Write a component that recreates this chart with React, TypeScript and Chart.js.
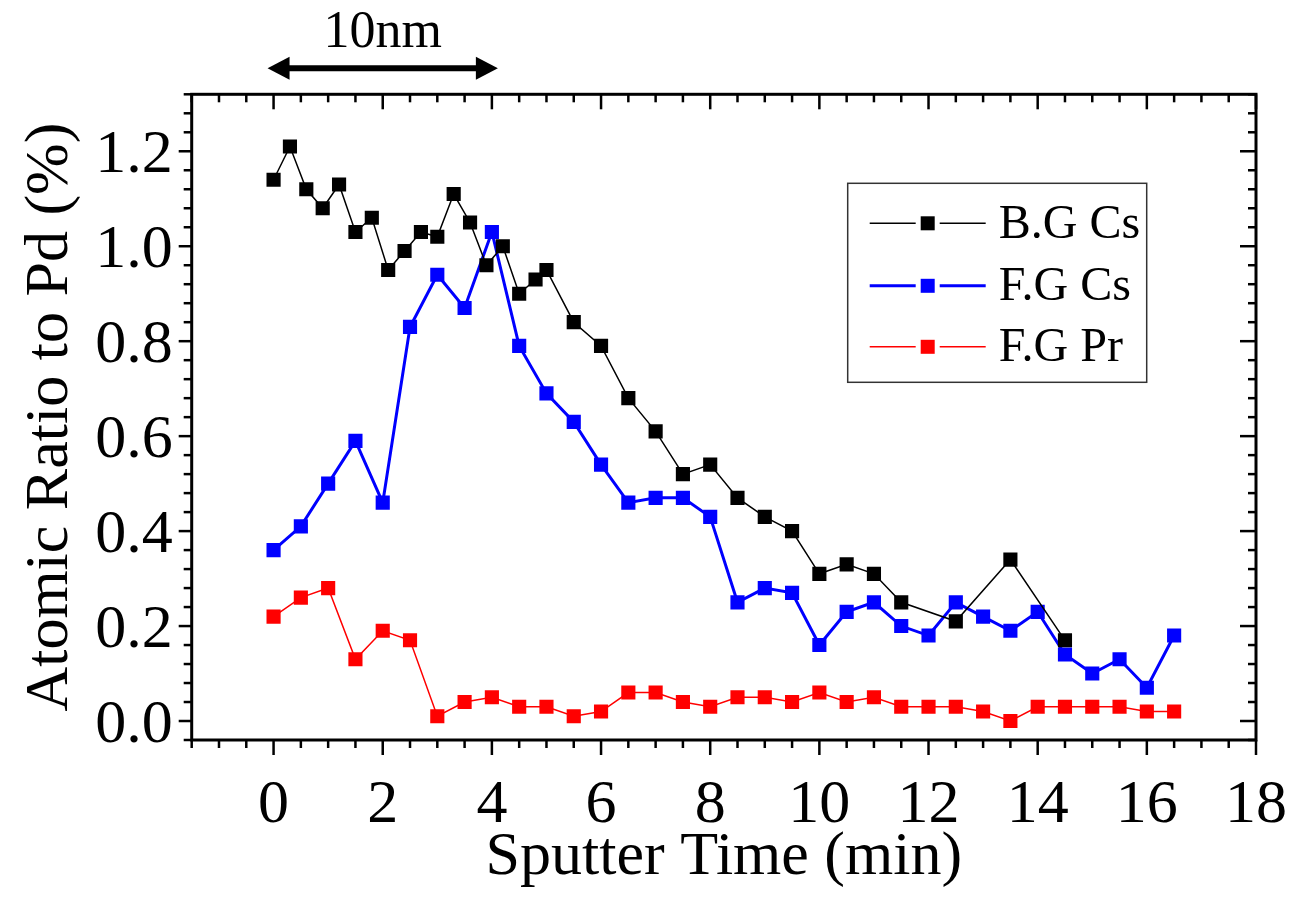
import React, { useEffect, useRef } from 'react';
import { Chart, registerables } from 'chart.js';

Chart.register(...registerables);

const FONT = '"Liberation Serif", "Times New Roman", serif';
Chart.defaults.font.family = FONT;
const BASE_PX = 48;

// ---- data ----
const bgCsTime = [0, 0.3, 0.6, 0.9, 1.2, 1.5, 1.8, 2.1, 2.4, 2.7, 3.0, 3.3, 3.6, 3.9, 4.2, 4.5, 4.8, 5.0, 5.5, 6.0, 6.5, 7.0, 7.5, 8.0, 8.5, 9.0, 9.5, 10.0, 10.5, 11.0, 11.5, 12.5, 13.5, 14.5];
const bgCsRatio = [1.14, 1.21, 1.12, 1.08, 1.13, 1.03, 1.06, 0.95, 0.99, 1.03, 1.02, 1.11, 1.05, 0.96, 1.0, 0.9, 0.93, 0.95, 0.84, 0.79, 0.68, 0.61, 0.52, 0.54, 0.47, 0.43, 0.4, 0.31, 0.33, 0.31, 0.25, 0.21, 0.34, 0.17];

const fgTime = [0, 0.5, 1.0, 1.5, 2.0, 2.5, 3.0, 3.5, 4.0, 4.5, 5.0, 5.5, 6.0, 6.5, 7.0, 7.5, 8.0, 8.5, 9.0, 9.5, 10.0, 10.5, 11.0, 11.5, 12.0, 12.5, 13.0, 13.5, 14.0, 14.5, 15.0, 15.5, 16.0, 16.5];
const fgCsRatio = [0.36, 0.41, 0.5, 0.59, 0.46, 0.83, 0.94, 0.87, 1.03, 0.79, 0.69, 0.63, 0.54, 0.46, 0.47, 0.47, 0.43, 0.25, 0.28, 0.27, 0.16, 0.23, 0.25, 0.2, 0.18, 0.25, 0.22, 0.19, 0.23, 0.14, 0.1, 0.13, 0.07, 0.18];
const fgPrRatio = [0.22, 0.26, 0.28, 0.13, 0.19, 0.17, 0.01, 0.04, 0.05, 0.03, 0.03, 0.01, 0.02, 0.06, 0.06, 0.04, 0.03, 0.05, 0.05, 0.04, 0.06, 0.04, 0.05, 0.03, 0.03, 0.03, 0.02, 0.0, 0.03, 0.03, 0.03, 0.03, 0.02, 0.02];

const seriesLabels = ['B.G Cs', 'F.G Cs', 'F.G Pr'];
const seriesColors = ['#000000', '#0000ff', '#ff0000'];
const seriesWidths = [1.5, 3, 1.5];

const xMajorTicks = [0, 2, 4, 6, 8, 10, 12, 14, 16, 18];
const yMajorTicks = [0, 0.2, 0.4, 0.6, 0.8, 1.0, 1.2];
const xTitle = 'Sputter Time (min)';
const yTitle = 'Atomic Ratio to Pd (%)';
const scaleBarLabel = '10nm';
const scaleBarFrom = 0;
const scaleBarTo = 4;

const near = (a: number, b: number) => Math.abs(a - b) < 1e-6;
const isXMajor = (v: number) => xMajorTicks.some((m) => near(m, v));
const isYMajor = (v: number) => yMajorTicks.some((m) => near(m, v));

// draw text at a given effective size using a fixed base font size + transform
function drawText(
  ctx: CanvasRenderingContext2D,
  text: string,
  x: number,
  y: number,
  size: number,
  align: CanvasTextAlign,
  baseline: CanvasTextBaseline,
  rotation = 0
) {
  ctx.save();
  ctx.translate(x, y);
  if (rotation) ctx.rotate(rotation);
  const k = size / BASE_PX;
  ctx.scale(k, k);
  ctx.font = `${BASE_PX}px ${FONT}`;
  ctx.textAlign = align;
  ctx.textBaseline = baseline;
  ctx.fillStyle = '#000';
  ctx.fillText(text, 0, 0);
  ctx.restore();
}

const framePlugin = {
  id: 'frameTicks',
  afterDraw(chart: any) {
    const { ctx, chartArea: a, scales } = chart;
    const xs = scales.x;
    const ys = scales.y;
    ctx.save();
    ctx.strokeStyle = '#000';
    ctx.lineWidth = 2.5;
    ctx.lineCap = 'butt';
    const seg = (x1: number, y1: number, x2: number, y2: number) => {
      ctx.beginPath();
      ctx.moveTo(x1, y1);
      ctx.lineTo(x2, y2);
      ctx.stroke();
    };
    xs.ticks.forEach((t: any) => {
      const px = xs.getPixelForValue(t.value);
      const len = isXMajor(t.value) ? 15 : 8;
      seg(px, a.bottom, px, a.bottom + len);
      seg(px, a.top, px, a.top + len);
    });
    ys.ticks.forEach((t: any) => {
      const py = ys.getPixelForValue(t.value);
      const major = isYMajor(t.value);
      seg(a.left - (major ? 13 : 8), py, a.left, py);
      seg(a.right - (major ? 16 : 8), py, a.right, py);
    });
    ctx.lineWidth = 3;
    ctx.strokeRect(a.left, a.top, a.right - a.left, a.bottom - a.top);

    // tick labels from the scales' own ticks
    xs.ticks.forEach((t: any) => {
      if (!isXMajor(t.value)) return;
      drawText(ctx, String(Math.round(t.value)), xs.getPixelForValue(t.value), a.bottom + 82, 62, 'center', 'alphabetic');
    });
    ys.ticks.forEach((t: any) => {
      if (!isYMajor(t.value)) return;
      drawText(ctx, Number(t.value).toFixed(1), a.left - 19, ys.getPixelForValue(t.value) + 21, 62, 'right', 'alphabetic');
    });

    // axis titles
    drawText(ctx, xTitle, (a.left + a.right) / 2, a.bottom + 118, 62, 'center', 'middle');
    drawText(ctx, yTitle, a.left - 141, (a.top + a.bottom) / 2, 62, 'center', 'middle', -Math.PI / 2);
    ctx.restore();
  },
};

const legendPlugin = {
  id: 'insideLegend',
  afterDraw(chart: any) {
    const { ctx, chartArea: a } = chart;
    const boxLeft = a.left + 656;
    const boxTop = a.top + 89;
    const boxW = 299;
    const boxH = 199;
    ctx.save();
    ctx.fillStyle = '#fff';
    ctx.fillRect(boxLeft, boxTop, boxW, boxH);
    ctx.strokeStyle = '#333';
    ctx.lineWidth = 1.5;
    ctx.strokeRect(boxLeft, boxTop, boxW, boxH);
    const rows = [40, 102.5, 163.5];
    chart.data.datasets.forEach((ds: any, i: number) => {
      const yy = boxTop + rows[i];
      ctx.strokeStyle = ds.borderColor;
      ctx.lineWidth = ds.borderWidth;
      ctx.beginPath();
      ctx.moveTo(boxLeft + 22, yy);
      ctx.lineTo(boxLeft + 68, yy);
      ctx.moveTo(boxLeft + 92, yy);
      ctx.lineTo(boxLeft + 138, yy);
      ctx.stroke();
      ctx.fillStyle = ds.backgroundColor;
      ctx.fillRect(boxLeft + 80 - 7, yy - 7, 14, 14);
      drawText(ctx, ds.label, boxLeft + 151, yy + 2, 48, 'left', 'middle');
    });
    ctx.restore();
  },
};

const scaleBarPlugin = {
  id: 'scaleBar',
  afterDraw(chart: any) {
    const { ctx, chartArea: a, scales } = chart;
    const x1 = scales.x.getPixelForValue(scaleBarFrom) - 6;
    const x2 = scales.x.getPixelForValue(scaleBarTo) + 6;
    const yy = a.top - 26;
    const head = 22;
    const half = 11.5;
    ctx.save();
    ctx.strokeStyle = '#000';
    ctx.fillStyle = '#000';
    ctx.lineWidth = 6;
    ctx.beginPath();
    ctx.moveTo(x1 + head - 2, yy);
    ctx.lineTo(x2 - head + 2, yy);
    ctx.stroke();
    ctx.beginPath();
    ctx.moveTo(x1, yy);
    ctx.lineTo(x1 + head, yy - half);
    ctx.lineTo(x1 + head, yy + half);
    ctx.closePath();
    ctx.fill();
    ctx.beginPath();
    ctx.moveTo(x2, yy);
    ctx.lineTo(x2 - head, yy - half);
    ctx.lineTo(x2 - head, yy + half);
    ctx.closePath();
    ctx.fill();
    drawText(ctx, scaleBarLabel, (x1 + x2) / 2, a.top - 47, 52, 'center', 'alphabetic');
    ctx.restore();
  },
};

export default function App() {
  const canvasRef = useRef<HTMLCanvasElement | null>(null);

  useEffect(() => {
    if (!canvasRef.current) return;
    const mk = (xsArr: number[], ysArr: number[]) => xsArr.map((x, i) => ({ x, y: ysArr[i] }));
    const allData = [mk(bgCsTime, bgCsRatio), mk(fgTime, fgCsRatio), mk(fgTime, fgPrRatio)];
    const chart = new Chart(canvasRef.current, {
      type: 'line',
      data: {
        datasets: allData.map((d, i) => ({
          label: seriesLabels[i],
          data: d,
          borderColor: seriesColors[i],
          backgroundColor: seriesColors[i],
          borderWidth: seriesWidths[i],
          pointStyle: 'rect',
          pointRadius: 10,
          pointHoverRadius: 10,
          pointBorderWidth: 0,
          pointBackgroundColor: seriesColors[i],
          tension: 0,
          fill: false,
        })),
      },
      options: {
        animation: false,
        responsive: true,
        maintainAspectRatio: false,
        events: [],
        layout: { padding: { top: 94.3, right: 52, left: 0, bottom: 0 } },
        plugins: {
          legend: { display: false },
          tooltip: { enabled: false },
        },
        scales: {
          x: {
            type: 'linear',
            min: -1.5,
            max: 18,
            grid: { display: false, drawTicks: false },
            border: { display: false },
            ticks: { display: false, stepSize: 0.5, autoSkip: false },
            title: { display: false, text: xTitle },
            afterFit: (s: any) => {
              s.height = 160;
            },
          },
          y: {
            type: 'linear',
            min: -0.04,
            max: 1.32,
            grid: { display: false, drawTicks: false },
            border: { display: false },
            ticks: { display: false, stepSize: 0.04, autoSkip: false },
            title: { display: false, text: yTitle },
            afterFit: (s: any) => {
              s.width = 191.7;
            },
          },
        },
      },
      plugins: [framePlugin, legendPlugin, scaleBarPlugin],
    } as any);
    return () => chart.destroy();
  }, []);

  return (
    <div style={{ position: 'fixed', left: 0, top: 0, width: 1308, height: 900, background: '#fff' }}>
      <canvas ref={canvasRef} />
    </div>
  );
}
